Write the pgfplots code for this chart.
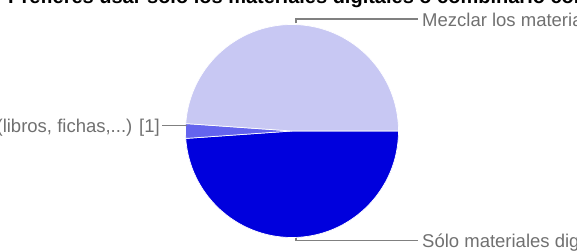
\documentclass[border=0pt]{standalone}
\usepackage{pgfplots}
\usepackage{pgfplotstable}
\pgfplotsset{compat=1.18}
\usepackage{fontspec}
\setmainfont{Liberation Sans}
\definecolor{sdig}{RGB}{0,0,221}
\definecolor{strad}{RGB}{100,100,238}
\definecolor{smix}{RGB}{200,200,243}
\definecolor{lbl}{RGB}{112,112,112}
\definecolor{lead}{RGB}{128,128,128}

\pgfplotstableread{
slice count
digitales 22
tradicionales 1
mezclar 22
}\piedata

\begin{document}
\begin{tikzpicture}
\useasboundingbox (0,0) rectangle (577pt,251pt);
\clip (0,0) rectangle (577pt,251pt);
% compute angles from the table
\pgfplotstablegetelem{0}{count}\of\piedata \edef\ca{\pgfplotsretval}
\pgfplotstablegetelem{1}{count}\of\piedata \edef\cb{\pgfplotsretval}
\pgfplotstablegetelem{2}{count}\of\piedata \edef\cc{\pgfplotsretval}
\pgfmathsetmacro{\tot}{\ca+\cb+\cc}
\pgfmathsetmacro{\angA}{-360*\ca/\tot}
\pgfmathsetmacro{\angB}{\angA-360*\cb/\tot}
\begin{axis}[
  hide axis, scale only axis,
  width=577pt, height=251pt,
  xmin=0, xmax=577, ymin=0, ymax=251,
  clip=false, anchor=origin, at={(0,0)},
]
\edef\temp{\noexpand\fill[sdig, draw=white, line width=0.7pt] (axis cs:292,120) -- ++(0:106.5pt) arc[start angle=0, end angle=\angA, radius=106.5pt] -- cycle;}\temp
\edef\temp{\noexpand\fill[strad, draw=white, line width=0.7pt] (axis cs:292,120) -- ++(\angA:106.5pt) arc[start angle=\angA, end angle=\angB, radius=106.5pt] -- cycle;}\temp
\edef\temp{\noexpand\fill[smix, draw=white, line width=0.7pt] (axis cs:292,120) -- ++(\angB:106.5pt) arc[start angle=\angB, end angle=-360, radius=106.5pt] -- cycle;}\temp
% leader lines
\draw[lead, line width=1.2pt] (axis cs:296,227.5) -- (axis cs:296,232) -- (axis cs:418,232);
\draw[lead, line width=1.2pt] (axis cs:296,13.5) -- (axis cs:296,10.5) -- (axis cs:418,10.5);
\draw[lead, line width=1.2pt] (axis cs:162,125.5) -- (axis cs:186.5,125.5);
% labels
\node[anchor=base west, inner sep=0pt, text=lbl, font=\fontsize{18.5}{22}\selectfont] at (axis cs:422,224.5) {Mezclar los materiales digitales y tradicionales [22]};
\node[anchor=base west, inner sep=0pt, text=lbl, font=\fontsize{18.5}{22}\selectfont] at (axis cs:422,4) {Sólo materiales digitales [22]};
\node[anchor=base east, inner sep=0pt, text=lbl, font=\fontsize{18.5}{22}\selectfont] at (axis cs:160,118.5) {Sólo materiales tradicionales (libros, fichas,...) [1]};
\node[anchor=base west, inner sep=0pt, text=black, font=\bfseries\fontsize{20}{24}\selectfont] at (axis cs:8,247) {Prefieres usar sólo los materiales digitales o combinarlo con los tradicionales?};
\end{axis}
\end{tikzpicture}
\end{document}
